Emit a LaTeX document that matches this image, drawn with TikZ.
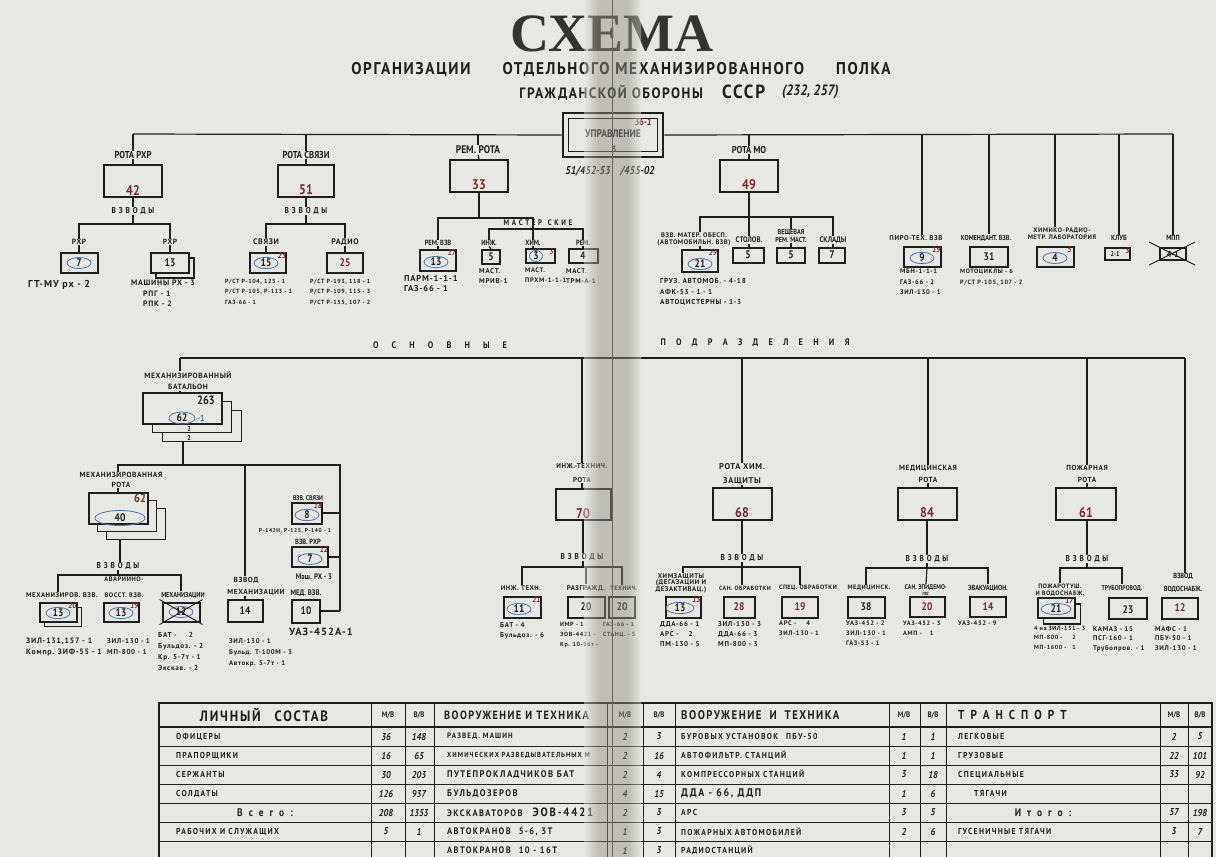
\documentclass[tikz,border=0pt]{standalone}
\usepackage{fontspec}
\setmainfont{PT Sans}[FakeStretch=0.86]
\newfontfamily\spfont{PT Sans}[FakeStretch=0.86,LetterSpace=12]
\newfontfamily\tfont{PT Sans}[FakeStretch=0.9,LetterSpace=10]
\newfontfamily\lfont{PT Sans}[LetterSpace=8]
\newfontfamily\nfont{PT Sans}[LetterSpace=10]
\newfontfamily\xfont{PT Sans}[FakeStretch=0.9,LetterSpace=15]
\newfontfamily\titlefont{Liberation Serif}
\usetikzlibrary{shapes.geometric,shadows}
\definecolor{paper}{HTML}{E7E7E4}
\definecolor{ink}{HTML}{1E1E1E}
\definecolor{titc}{HTML}{333331}
\definecolor{numred}{HTML}{6E2A2A}
\definecolor{ovalc}{HTML}{4F74A8}
\definecolor{foldc}{HTML}{8F8E86}
\tikzset{
 conn/.style={draw=ink, line width=1.2pt},
 ubox/.style={rectangle, draw=ink, line width=2pt, fill=paper, inner sep=0pt},
 bbox/.style={ubox, minimum width=58pt, minimum height=32pt},
 sbox/.style={ubox, minimum width=36pt, minimum height=20pt},
 lab/.style={font=\fontsize{7.5}{8}\selectfont, text=ink, inner sep=0.5pt, align=center},
 blab/.style={font=\fontsize{10}{10}\selectfont, text=ink, inner sep=0.5pt, align=center},
 vzv/.style={font=\spfont\fontsize{8.5}{9}\selectfont, text=ink, inner sep=0.5pt},
 num/.style={font=\fontsize{14}{14}\selectfont, text=numred, inner sep=0pt},
 snum/.style={font=\fontsize{11}{11}\selectfont, text=ink, inner sep=0pt},
 supn/.style={font=\itshape\fontsize{8.5}{8.5}\selectfont, text=numred, inner sep=0pt, anchor=north east},
 ovalm/.style={ellipse, draw=ovalc, line width=0.8pt, inner sep=0pt, minimum width=24pt, minimum height=11pt, font=\fontsize{11}{11}\selectfont, text=ink},
 note/.style={font=\nfont\fontsize{6.8}{10}\selectfont, text=ink, align=left, anchor=north west, inner sep=0pt},
 cross/.style={draw=ink, line width=0.9pt},
 tline/.style={draw=ink, line width=0.7pt},
 ttext/.style={font=\xfont\fontsize{8.6}{9}\selectfont, text=ink, anchor=west, inner sep=0pt},
 tval/.style={font=\itshape\fontsize{10}{10}\selectfont, text=ink, inner sep=0pt},
 thead/.style={font=\spfont\fontsize{12}{12}\selectfont, text=ink, inner sep=0pt},
 tsm/.style={font=\fontsize{8}{8}\selectfont, text=ink, inner sep=0pt},
 spread/.style={font=\spfont\fontsize{9.5}{9.5}\selectfont, text=ink, inner sep=0pt, text width=#1, align=left},
 stack/.style={copy shadow={shadow xshift=#1, shadow yshift=-#1, fill=paper, draw=ink, line width=1.5pt}},
 dstack/.style 2 args={double copy shadow={shadow xshift=#1, shadow yshift=-#2, fill=paper, draw=ink, line width=1.5pt}},
}
\begin{document}
\begin{tikzpicture}[x=1pt,y=-1pt, execute at begin node=\bfseries]
\fill[paper] (0,0) rectangle (1216,857);
\useasboundingbox (0,0) rectangle (1216,857);

% ---------- title ----------
\node[font=\titlefont\fontsize{54}{54}\selectfont, text=titc, inner sep=0] (title) at (612,34) {СХЕМА};
\node[font=\tfont\fontsize{17}{17}\selectfont, text=ink, inner sep=0] (sub1) at (621,69) {ОРГАНИЗАЦИИ\hspace{32pt}ОТДЕЛЬНОГО МЕХАНИЗИРОВАННОГО\hspace{32pt}ПОЛКА};
\node[font=\tfont\fontsize{15}{15}\selectfont, text=ink, inner sep=0, anchor=east] (sub2) at (703,93) {ГРАЖДАНСКОЙ ОБОРОНЫ};
\node[font=\tfont\fontsize{19}{19}\selectfont, text=ink, inner sep=0, anchor=west] (sub3) at (722,92) {СССР};
\node[font=\itshape\fontsize{15}{15}\selectfont, text=ink, inner sep=0, anchor=west] (sub4) at (782,92) {(232, 257)};

% ---------- управление ----------
\node[ubox, line width=2.6pt, minimum width=100pt, minimum height=44pt] (upr) at (613,135) {};
\node[draw=ink, line width=0.9pt, minimum width=89pt, minimum height=33pt, inner sep=0] (upri) at (upr.center) {};
\node[font=\fontsize{11}{11}\selectfont, text=ink, inner sep=0] (uprt) at (613,134) {УПРАВЛЕНИЕ};
\node[font=\itshape\fontsize{10}{10}\selectfont, text=numred, inner sep=0] (upr1) at (643,122) {36-1};
\node[font=\fontsize{9}{9}\selectfont, text=ink, inner sep=0] (upr2) at (614,149) {3};
\node[font=\itshape\fontsize{11.5}{11.5}\selectfont, text=ink, inner sep=0] (uprn) at (610,171) {51/452-53\hspace{10pt}/455-02};

\coordinate (tL) at (133,134);
\coordinate (tR) at (1173,134);
\draw[conn] (upr.west) -- (tL);
\draw[conn] (upr.east) -- (tR);

% ---------- рота РХР ----------
\node[blab] (lRXR) at (133,155) {РОТА РХР};
\node[bbox] (bRXR) at (133,181) {};
\node[num] (nRXR) at ([yshift=8pt]bRXR.south) {42};
\node[vzv] (vRXR) at (133,211) {В З В О Д Ы};
\coordinate (jRXR) at (133,224);
\draw[conn] (tL) -- (lRXR.north);
\draw[conn] (lRXR.south) -- (bRXR.north);
\draw[conn] (bRXR.south) -- (vRXR.north);
\draw[conn] (vRXR.south) -- (jRXR);
\node[lab, font=\lfont\fontsize{7.5}{8}\selectfont] (lRXR1) at (79,242) {РХР};
\node[lab, font=\lfont\fontsize{7.5}{8}\selectfont] (lRXR2) at (170,242) {РХР};
\draw[conn] (jRXR) -| (lRXR1.north);
\draw[conn] (jRXR) -| (lRXR2.north);
\node[sbox, minimum width=37pt] (bRXR1) at (79,263) {};
\node[ovalm] (oRXR1) at (bRXR1.center) {7};
\node[sbox, minimum width=38pt, stack=5pt] (bRXR2) at (170,263) {};
\node[snum] (nRXR2) at (bRXR2.center) {13};
\draw[conn] (lRXR1.south) -- (bRXR1.north);
\draw[conn] (lRXR2.south) -- (bRXR2.north);
\node[note, font=\nfont\fontsize{10}{10}\selectfont] (tRXR1) at (28,280) {ГТ-МУ рх - 2};
\node[note, font=\nfont\fontsize{7.8}{10.5}\selectfont] (tRXR2) at (131,280) {МАШИНЫ РХ - 3\\\hspace*{12pt}РПГ - 1\\\hspace*{12pt}РПК - 2};

% ---------- рота связи ----------
\node[blab] (lSV) at (306,155) {РОТА СВЯЗИ};
\node[bbox, minimum width=56pt] (bSV) at (306,181) {};
\node[num] (nSV) at ([yshift=8pt]bSV.south) {51};
\node[vzv] (vSV) at (306,211) {В З В О Д Ы};
\coordinate (jSV) at (306,224);
\draw[conn] (lSV.north |- tL) -- (lSV.north);
\draw[conn] (lSV.south) -- (bSV.north);
\draw[conn] (bSV.south) -- (vSV.north);
\draw[conn] (vSV.south) -- (jSV);
\node[lab, font=\lfont\fontsize{8}{8}\selectfont] (lSV1) at (266,242) {СВЯЗИ};
\node[lab, font=\lfont\fontsize{8}{8}\selectfont] (lSV2) at (345,242) {РАДИО};
\draw[conn] (jSV) -| (lSV1.north);
\draw[conn] (jSV) -| (lSV2.north);
\node[sbox] (bSV1) at (268,263) {};
\node[ovalm] (oSV1) at ([xshift=-2pt]bSV1.center) {15};
\node[supn] (sSV1) at ([xshift=-1pt,yshift=-0.5pt]bSV1.north east) {23};
\node[sbox] (bSV2) at (345,263) {};
\node[snum, text=numred] (nSV2) at (bSV2.center) {25};
\draw[conn] (lSV1.south) -- (lSV1.south |- bSV1.north);
\draw[conn] (lSV2.south) -- (bSV2.north);
\node[note, font=\nfont\fontsize{6}{10.5}\selectfont] (tSV1) at (225,279) {Р/СТ Р-104, 125 - 1\\Р/СТ Р-105, Р-113 - 1\\ГАЗ-66 - 1};
\node[note, font=\nfont\fontsize{6}{10.5}\selectfont] (tSV2) at (310,279) {Р/СТ Р-193, 118 - 1\\Р/СТ Р-109, 115 - 3\\Р/СТ Р-155, 107 - 2};

% ---------- рем. рота ----------
\node[blab, font=\fontsize{11}{11}\selectfont] (lREM) at (478,150) {РЕМ. РОТА};
\node[bbox] (bREM) at (479,176) {};
\node[num] (nREM) at ([yshift=8pt]bREM.south) {33};
\coordinate (jREM) at (479,218);
\coordinate (jM) at (533,229);
\draw[conn] (lREM.north |- tL) -- (lREM.north);
\draw[conn] (lREM.south) -- (bREM.north);
\draw[conn] (bREM.south) -- (jREM);
\node[font=\spfont\fontsize{8}{8}\selectfont, text=ink, inner sep=0] (mast) at (538,223) {М А С Т Е Р\hspace{3pt} С К И Е};
\node[lab] (lREM1) at (438,243) {РЕМ. ВЗВ};
\node[lab] (lREM2) at (489,243) {ИНЖ.};
\node[lab] (lREM3) at (533,243) {ХИМ.};
\node[lab] (lREM4) at (583,243) {РЕМ.};
\draw[conn] (jREM) -| (lREM1.north);
\draw[conn] (jREM) -| (lREM3.north);
\draw[conn] (jM) -| (lREM2.north);
\draw[conn] (jM) -| (lREM4.north);
\node[sbox, minimum height=21pt] (bREM1) at (438,260) {};
\node[ovalm] (oREM1) at ([xshift=-2pt,yshift=-2pt]bREM1.center) {13};
\node[supn] (sREM1) at ([xshift=-1pt,yshift=-0.5pt]bREM1.north east) {17};
\node[ubox, minimum width=18pt, minimum height=14pt] (bREM2) at (491,257) {};
\node[snum] (nREM2) at (bREM2.center) {5};
\node[ubox, minimum width=29pt, minimum height=14pt] (bREM3) at (540,256) {};
\node[ovalm, minimum width=13pt, minimum height=11pt] (oREM3) at ([xshift=-4pt]bREM3.center) {3};
\node[supn] (sREM3) at ([xshift=-2pt,yshift=-0.5pt]bREM3.north east) {3};
\node[ubox, minimum width=29pt, minimum height=14pt] (bREM4) at (583,256) {};
\node[snum] (nREM4) at (bREM4.center) {4};
\draw[conn] (lREM1.south) -- (bREM1.north);
\draw[conn] (lREM2.south) -- (bREM2.north);
\draw[conn] (lREM3.south) -- (lREM3.south |- bREM3.north);
\draw[conn] (lREM4.south) -- (bREM4.north);
\node[note, font=\nfont\fontsize{8.5}{10.5}\selectfont] (tREM1) at (404,275) {ПАРМ-1-1-1\\ГАЗ-66 - 1};
\node[note, font=\nfont\fontsize{7}{10}\selectfont] (tREM2) at (479,268) {МАСТ.\\МРИВ-1};
\node[note, font=\nfont\fontsize{6.5}{10}\selectfont] (tREM3) at (525,268) {МАСТ.\\ПРХМ-1-1-1};
\node[note, font=\nfont\fontsize{6.8}{10}\selectfont] (tREM4) at (566,268) {МАСТ.\\ТРМ-А-1};

% ---------- рота МО ----------
\node[blab] (lMO) at (749,150) {РОТА МО};
\node[bbox] (bMO) at (749,176) {};
\node[num] (nMO) at ([yshift=8pt]bMO.south) {49};
\coordinate (jMO) at (749,217);
\draw[conn] (lMO.north |- tL) -- (lMO.north);
\draw[conn] (lMO.south) -- (bMO.north);
\draw[conn] (bMO.south) -- (jMO);
\node[lab, font=\lfont\fontsize{6.6}{7.2}\selectfont] (lMO1) at (694,239) {ВЗВ. МАТЕР. ОБЕСП.\\(АВТОМОБИЛЬН. ВЗВ)};
\node[lab, font=\fontsize{8}{8}\selectfont] (lMO2) at (749,240) {СТОЛОВ.};
\node[lab, font=\fontsize{7.2}{8}\selectfont] (lMO3) at (791,236) {ВЕЩЕВАЯ\\РЕМ. МАСТ.};
\node[lab, font=\fontsize{8}{8}\selectfont] (lMO4) at (833,240) {СКЛАДЫ};
\node[sbox, minimum height=22pt] (bMO1) at (700,261) {};
\node[ovalm] (oMO1) at ([yshift=-3pt]bMO1.center) {21};
\node[supn] (sMO1) at ([xshift=-2pt,yshift=-0.5pt]bMO1.north east) {29};
\node[ubox, minimum width=31pt, minimum height=15pt] (bMO2) at (748,255) {};
\node[snum] (nMO2) at (bMO2.center) {5};
\node[ubox, minimum width=28pt, minimum height=15pt] (bMO3) at (791,255) {};
\node[snum] (nMO3) at (bMO3.center) {5};
\node[ubox, minimum width=26pt, minimum height=15pt] (bMO4) at (832,255) {};
\node[snum] (nMO4) at (bMO4.center) {7};
\draw[conn] (jMO) -| (bMO1.north |- lMO1.north);
\draw[conn] (jMO) -- (lMO2.north);
\draw[conn] (jMO) -| (lMO3.north);
\draw[conn] (jMO) -| (lMO4.north);
\draw[conn] (bMO1.north |- lMO1.south) -- (bMO1.north);
\draw[conn] (lMO2.south) -- (lMO2.south |- bMO2.north);
\draw[conn] (lMO3.south) -- (bMO3.north);
\draw[conn] (lMO4.south) -- (lMO4.south |- bMO4.north);
\node[note, font=\nfont\fontsize{7.2}{10.8}\selectfont] (tMO1) at (660,278) {ГРУЗ. АВТОМОБ. - 4-18\\АФК-53 - 1 - 1\\АВТОЦИСТЕРНЫ - 1-3};

% ---------- right group ----------
\node[lab, font=\lfont\fontsize{7}{8}\selectfont] (lPT) at (916,238) {ПИРО-ТЕХ. ВЗВ};
\node[lab, font=\fontsize{7.2}{8}\selectfont] (lKOM) at (986,238) {КОМЕНДАНТ. ВЗВ.};
\node[lab, font=\lfont\fontsize{6.5}{7.4}\selectfont] (lHIM) at (1062,234) {ХИМИКО-РАДИО-\\МЕТР. ЛАБОРАТОРИЯ};
\node[lab] (lKL) at (1119,238) {КЛУБ};
\node[lab] (lMPP) at (1173,238) {МПП};
\node[sbox, minimum width=37pt] (bPT) at (922,257) {};
\node[ovalm] (oPT) at ([yshift=-1pt]bPT.center) {9};
\node[supn] (sPT) at ([xshift=-1pt,yshift=-0.5pt]bPT.north east) {19};
\node[sbox, minimum width=38pt] (bKOM) at (989,257) {};
\node[snum] (nKOM) at (bKOM.center) {31};
\node[sbox, minimum width=37pt] (bHIM) at (1055,257) {};
\node[ovalm] (oHIM) at ([yshift=-1pt]bHIM.center) {4};
\node[supn] (sHIM) at ([xshift=-3pt,yshift=-0.5pt]bHIM.north east) {5};
\node[ubox, minimum width=25pt, minimum height=12pt] (bKL) at (1117,254) {};
\node[font=\fontsize{7}{7}\selectfont, text=ink, inner sep=0] (nKL) at ([xshift=-2pt]bKL.center) {2-1};
\node[supn] (sKL) at ([xshift=-1pt,yshift=-0.5pt]bKL.north east) {3};
\node[ubox, minimum width=26pt, minimum height=12pt] (bMPP) at (1173,254) {};
\node[font=\fontsize{9}{9}\selectfont, text=ink, inner sep=0] (nMPP) at (bMPP.center) {4-1};
\draw[conn] (bPT.north |- tL) -- (bPT.north |- lPT.north);
\draw[conn] (bKOM.north |- tL) -- (bKOM.north |- lKOM.north);
\draw[conn] (bHIM.north |- tL) -- (bHIM.north |- lHIM.north);
\draw[conn] (lKL.north |- tL) -- (lKL.north);
\draw[conn] (tR) -- (lMPP.north);
\draw[cross] ([shift={(-10pt,5pt)}]bMPP.north west) -- ([shift={(8pt,-4pt)}]bMPP.south east);
\draw[cross] ([shift={(-10pt,-4pt)}]bMPP.south west) -- ([shift={(8pt,5pt)}]bMPP.north east);
\node[note, font=\nfont\fontsize{6.6}{10.5}\selectfont] (tPT) at (900,269) {МБН-1-1-1\\ГАЗ-66 - 2\\ЗИЛ-130 - 1};
\node[note, font=\nfont\fontsize{6.2}{10.8}\selectfont] (tKOM) at (960,269) {МОТОЦИКЛЫ - 6\\Р/СТ Р-105, 107 - 2};

% ---------- основные подразделения ----------
\node[spread=134pt] (osn) at (440,345) {О\hfill С\hfill Н\hfill О\hfill В\hfill Н\hfill Ы\hfill Е};
\node[spread=189pt] (podr) at (755,343) {П\hfill О\hfill Д\hfill Р\hfill А\hfill З\hfill Д\hfill Е\hfill Л\hfill Е\hfill Н\hfill И\hfill Я};
\coordinate (mL) at (180,358);
\coordinate (mR) at (1185,358);
\draw[conn] (mL) -- (mR);

% ---------- мех. батальон ----------
\node[lab, font=\lfont\fontsize{7.6}{11}\selectfont] (lBAT) at (188,381) {МЕХАНИЗИРОВАННЫЙ\\БАТАЛЬОН};
\draw[conn] (mL) -- (mL |- lBAT.north);
\node[ubox, minimum width=79pt, minimum height=31pt, dstack={10pt}{9pt}] (bBAT) at (182,408) {};
\draw[conn] (mL |- lBAT.south) -- (mL |- bBAT.north);
\node[font=\fontsize{12}{12}\selectfont, text=ink, inner sep=0] (nBAT) at (206,400) {263};
\node[ovalm, minimum width=26pt, minimum height=12pt] (oBAT) at (182,418) {62};
\node[font=\fontsize{9}{9}\selectfont, text=ovalc, inner sep=0] (oBAT1) at (201,418) {-1};
\node[font=\fontsize{7}{7}\selectfont, text=ink, inner sep=0] (dBAT1) at (189,428.5) {2};
\node[font=\fontsize{7}{7}\selectfont, text=ink, inner sep=0] (dBAT2) at (189,437.5) {2};
\coordinate (bBATb) at (183,442);
\coordinate (jBAT) at (183,465);
\draw[conn] (bBATb) -- (jBAT);

% мех. рота
\node[lab, font=\lfont\fontsize{7.4}{10}\selectfont] (lMR) at (121,480) {МЕХАНИЗИРОВАННАЯ\\РОТА};
\node[ubox, minimum width=59pt, minimum height=31pt, dstack={9pt}{8pt}] (bMR) at (118,508) {};
\draw[conn] (jBAT) -| (bMR.north |- lMR.north);
\draw[conn] (bMR.north |- lMR.south) -- (bMR.north);
\node[font=\fontsize{12}{12}\selectfont, text=numred, inner sep=0] (nMR) at (140,498) {62};
\node[ovalm, minimum width=50pt, minimum height=15pt] (oMR) at (120,518) {40};
\coordinate (bMRb) at (120,539);
\node[vzv] (vMR) at (118,566) {В З В О Д Ы};
\coordinate (jMR) at (118,575);
\draw[conn] (bMRb) -- (vMR.north -| bMRb);
\draw[conn] (vMR.south) -- (jMR);
\node[lab, font=\lfont\fontsize{6.8}{8}\selectfont] (lMR1) at (62,595) {МЕХАНИЗИРОВ. ВЗВ.};
\node[lab, font=\lfont\fontsize{6.5}{16}\selectfont] (lMR2) at (124,587) {АВАРИЙНО-\\ВОССТ. ВЗВ.};
\node[lab, font=\fontsize{7.2}{8}\selectfont] (lMR3) at (183,595) {МЕХАНИЗАЦИИ};
\node[sbox, minimum width=37pt, minimum height=19pt, stack=5pt] (bMR1) at (58,612) {};
\node[ovalm] (oMR1) at ([yshift=-1pt]bMR1.center) {13};
\node[supn] (sMR1) at ([xshift=-1pt,yshift=-0.5pt]bMR1.north east) {20};
\node[sbox, minimum width=35pt, minimum height=19pt] (bMR2) at (121,612) {};
\node[ovalm] (oMR2) at ([yshift=-1pt]bMR2.center) {13};
\node[supn] (sMR2) at ([xshift=-1pt,yshift=-0.5pt]bMR2.north east) {19};
\node[sbox, minimum width=37pt, minimum height=19pt] (bMR3) at (181,612) {};
\node[ovalm] (oMR3) at (bMR3.center) {12};
\draw[conn] (jMR) -| (bMR1.north |- lMR1.north);
\draw[conn] (jMR) -| (lMR2.north);
\draw[conn] (jMR) -| (bMR3.north |- lMR3.north);
\draw[cross] ([shift={(-2pt,2pt)}]bMR3.north west) -- ([shift={(2pt,-2pt)}]bMR3.south east);
\draw[cross] ([shift={(-2pt,-2pt)}]bMR3.south west) -- ([shift={(2pt,2pt)}]bMR3.north east);
\node[note, font=\nfont\fontsize{7.8}{11}\selectfont] (tMR1) at (26,638) {ЗИЛ-131,157 - 1\\Компр. ЗИФ-55 - 1};
\node[note, font=\nfont\fontsize{7}{11}\selectfont] (tMR2) at (107,638) {ЗИЛ-130 - 1\\МП-800 - 1};
\node[note, font=\nfont\fontsize{7.2}{11}\selectfont] (tMR3) at (158,632) {БАТ -\hspace{12pt}2\\Бульдоз. - 2\\Кр. 5-7т - 1\\Экскав. - 2};

% взвод механизации
\node[lab, font=\lfont\fontsize{7.3}{12}\selectfont] (lVM) at (256,586) {ВЗВОД\hspace*{20pt}\\МЕХАНИЗАЦИИ};
\node[sbox, minimum width=35pt, minimum height=22pt] (bVM) at (245,611) {};
\node[snum] (nVM) at (bVM.center) {14};
\draw[conn] (jBAT) -| (bVM.north |- lVM.north);
\draw[conn] (bVM.north |- lVM.south) -- (bVM.north);
\node[note, font=\nfont\fontsize{6.8}{11}\selectfont] (tVM) at (229,638) {ЗИЛ-130 - 1\\Бульд. Т-100М - 3\\Автокр. 5-7т - 1};

% right column
\coordinate (rc) at (340,611);
\draw[conn] (jBAT) -| (rc);
\node[lab, font=\fontsize{6.8}{8}\selectfont] (lVS) at (308,498) {ВЗВ. СВЯЗИ};
\node[sbox, minimum width=30pt, minimum height=21pt] (bVS) at (307,513) {};
\node[ovalm] (oVS) at ([yshift=-2pt]bVS.center) {8};
\node[supn] (sVS) at ([xshift=-1pt,yshift=-0.5pt]bVS.north east) {18};
\node[font=\nfont\fontsize{5.6}{6}\selectfont, text=ink, inner sep=0] (tVS) at (295,531) {Р-142Н, Р-125, Р-140 - 1};
\node[lab] (lVR) at (308,542) {ВЗВ. РХР};
\node[sbox, minimum width=36pt, minimum height=20pt] (bVR) at (310,557) {};
\node[ovalm] (oVR) at ([yshift=-2pt]bVR.center) {7};
\node[supn] (sVR) at ([xshift=-1pt,yshift=-0.5pt]bVR.north east) {12};
\node[font=\fontsize{8}{8}\selectfont, text=ink, inner sep=0] (tVR) at (314,577) {Маш. РХ - 3};
\node[lab, font=\fontsize{8}{8}\selectfont] (lMED) at (306,593) {МЕД. ВЗВ.};
\node[sbox, minimum width=28pt, minimum height=23pt] (bMED) at (306,611) {};
\node[snum] (nMED) at (bMED.center) {10};
\node[font=\nfont\fontsize{10.5}{10.5}\selectfont, text=ink, inner sep=0] (tMED) at (321,632) {УАЗ-452А-1};
\draw[conn] (bVS.east) -- (bVS.east -| rc);
\draw[conn] (bVR.east) -- (bVR.east -| rc);
\draw[conn] (rc) -- (bMED.east);

% ---------- инж.-техн. рота ----------
\node[lab, font=\lfont\fontsize{7}{14}\selectfont] (lIT) at (582,473) {ИНЖ.-ТЕХНИЧ.\\РОТА};
\draw[conn] (lIT.north |- mL) -- (lIT.north);
\node[bbox, minimum width=55pt, minimum height=31pt] (bIT) at (583,504) {};
\node[num] (nIT) at ([yshift=7pt]bIT.south) {70};
\draw[conn] (lIT.south) -- (lIT.south |- bIT.north);
\node[vzv] (vIT) at (582,557) {В З В О Д Ы};
\coordinate (jIT) at (583,567);
\draw[conn] (bIT.south) -- (vIT.north -| bIT.south);
\draw[conn] (vIT.south -| jIT) -- (jIT);
\node[lab, font=\lfont\fontsize{6.8}{7}\selectfont] (lIT1) at (521,588) {ИНЖ. ТЕХН.};
\node[lab, font=\lfont\fontsize{6.8}{7}\selectfont] (lIT2) at (586,588) {РАЗГРАЖД.};
\node[lab, font=\lfont\fontsize{6.2}{7}\selectfont] (lIT3) at (624,588) {ТЕХНИЧ.};
\node[sbox, minimum width=37pt, minimum height=21pt] (bIT1) at (522,607) {};
\node[ovalm] (oIT1) at ([xshift=-3pt,yshift=-2pt]bIT1.center) {11};
\node[supn] (sIT1) at ([xshift=-1pt,yshift=-0.5pt]bIT1.north east) {21};
\node[sbox, minimum width=37pt, minimum height=21pt] (bIT2) at (586,607) {};
\node[snum] (nIT2) at (bIT2.center) {20};
\node[sbox, minimum width=26pt, minimum height=21pt] (bIT3) at (622,607) {};
\node[snum] (nIT3) at (bIT3.center) {20};
\draw[conn] (jIT) -| (bIT1.north |- lIT1.north);
\draw[conn] (jIT) -| (lIT2.north);
\draw[conn] (jIT) -| (bIT3.north |- lIT3.north);
\node[note, font=\nfont\fontsize{7}{10}\selectfont] (tIT1) at (500,622) {БАТ - 4\\Бульдоз. - 6};
\node[note, font=\nfont\fontsize{6}{10}\selectfont] (tIT2) at (560,622) {ИМР - 1\\ЭОВ-4421 -\\Кр. 10-16т -};
\node[note, font=\nfont\fontsize{6}{10}\selectfont] (tIT3) at (603,622) {ГАЗ-66 - 1\\СТАНЦ. - 5};

% ---------- рота хим. защиты ----------
\node[lab, font=\lfont\fontsize{8.4}{14}\selectfont] (lHZ) at (742,474) {РОТА ХИМ.\\ЗАЩИТЫ};
\draw[conn] (lHZ.north |- mL) -- (lHZ.north);
\node[bbox, minimum width=59pt] (bHZ) at (742,504) {};
\node[num] (nHZ) at ([yshift=8pt]bHZ.south) {68};
\draw[conn] (lHZ.south) -- (bHZ.north);
\node[vzv] (vHZ) at (742,558) {В З В О Д Ы};
\coordinate (jHZ) at (742,567);
\draw[conn] (bHZ.south) -- (vHZ.north);
\draw[conn] (vHZ.south) -- (jHZ);
\node[lab, font=\lfont\fontsize{6.8}{6.6}\selectfont] (lHZ1) at (681,583) {ХИМЗАЩИТЫ\\(ДЕГАЗАЦИИ И\\ДЕЗАКТИВАЦ.)};
\node[lab, font=\lfont\fontsize{6}{7}\selectfont] (lHZ2) at (745,588) {САН. ОБРАБОТКИ};
\node[lab, font=\lfont\fontsize{6.2}{7}\selectfont] (lHZ3) at (808,588) {СПЕЦ. ОБРАБОТКИ};
\node[sbox, minimum width=35pt, minimum height=21pt] (bHZ1) at (683,607) {};
\node[ovalm, minimum width=28pt] (oHZ1) at ([xshift=-3pt,yshift=-1pt]bHZ1.center) {13};
\node[supn] (sHZ1) at ([xshift=-1pt,yshift=-0.5pt]bHZ1.north east) {13};
\node[sbox, minimum width=31pt, minimum height=21pt] (bHZ2) at (739,607) {};
\node[snum, text=numred] (nHZ2) at (bHZ2.center) {28};
\node[sbox, minimum width=36pt, minimum height=21pt] (bHZ3) at (800,607) {};
\node[snum, text=numred] (nHZ3) at (bHZ3.center) {19};
\draw[conn] (jHZ) -| (bHZ1.north |- lHZ1.north);
\draw[conn] (jHZ) -- (lHZ2.north -| jHZ);
\draw[conn] (jHZ) -| (bHZ3.north |- lHZ3.north);
\node[note, font=\nfont\fontsize{7}{10}\selectfont] (tHZ1) at (660,621) {ДДА-66 - 1\\АРС -\hspace{10pt}2\\ПМ-130 - 5};
\node[note, font=\nfont\fontsize{7}{10}\selectfont] (tHZ2) at (718,621) {ЗИЛ-130 - 3\\ДДА-66 - 3\\МП-800 - 3};
\node[note, font=\nfont\fontsize{6.5}{10}\selectfont] (tHZ3) at (779,621) {АРС -\hspace{10pt}4\\ЗИЛ-130 - 1};

% ---------- медицинская рота ----------
\node[lab, font=\lfont\fontsize{7.4}{12}\selectfont] (lMD) at (928,474) {МЕДИЦИНСКАЯ\\РОТА};
\draw[conn] (lMD.north |- mL) -- (lMD.north);
\node[bbox, minimum width=59pt] (bMD) at (927,504) {};
\node[num] (nMD) at ([yshift=8pt]bMD.south) {84};
\draw[conn] (lMD.south) -- (lMD.south |- bMD.north);
\node[vzv] (vMD) at (927,559) {В З В О Д Ы};
\coordinate (jMD) at (927,568);
\draw[conn] (bMD.south) -- (vMD.north);
\draw[conn] (vMD.south) -- (jMD);
\node[lab, font=\lfont\fontsize{6.3}{5.5}\selectfont] (lMD1) at (869,588) {МЕДИЦИНСК.};
\node[lab, font=\fontsize{6.8}{5.5}\selectfont] (lMD2) at (926,590) {САН. ЭПИДЕМО-\\{\fontsize{4.5}{5}\selectfont ЛОГ.}};
\node[lab, font=\fontsize{7.3}{7}\selectfont] (lMD3) at (988,588) {ЭВАКУАЦИОН.};
\node[sbox, minimum width=37pt, minimum height=21pt] (bMD1) at (866,607) {};
\node[snum] (nMD1) at (bMD1.center) {38};
\node[sbox, minimum width=35pt, minimum height=20pt] (bMD2) at (927,607) {};
\node[snum, text=numred] (nMD2) at (bMD2.center) {20};
\node[sbox, minimum width=36pt, minimum height=20pt] (bMD3) at (988,607) {};
\node[snum, text=numred] (nMD3) at (bMD3.center) {14};
\draw[conn] (jMD) -| (bMD1.north |- lMD1.north);
\draw[conn] (jMD) -- (lMD2.north);
\draw[conn] (jMD) -| (lMD3.north);
\node[note, font=\nfont\fontsize{6.5}{10}\selectfont] (tMD1) at (846,621) {УАЗ-452 - 2\\ЗИЛ-130 - 1\\ГАЗ-53 - 1};
\node[note, font=\nfont\fontsize{6.3}{10}\selectfont] (tMD2) at (903,621) {УАЗ-452 - 3\\АМП -\hspace{8pt}1};
\node[note, font=\nfont\fontsize{6.5}{10}\selectfont] (tMD3) at (958,621) {УАЗ-452 - 9};

% ---------- пожарная рота ----------
\node[lab, font=\lfont\fontsize{7.3}{12}\selectfont] (lPZ) at (1087,474) {ПОЖАРНАЯ\\РОТА};
\draw[conn] (lPZ.north |- mL) -- (lPZ.north);
\node[bbox, minimum width=60pt] (bPZ) at (1086,504) {};
\node[num] (nPZ) at ([yshift=8pt]bPZ.south) {61};
\draw[conn] (lPZ.south) -- (lPZ.south |- bPZ.north);
\node[vzv] (vPZ) at (1087,559) {В З В О Д Ы};
\coordinate (jPZ) at (1087,568);
\draw[conn] (bPZ.south -| jPZ) -- (vPZ.north);
\draw[conn] (vPZ.south) -- (jPZ);
\node[lab, font=\lfont\fontsize{6.3}{7}\selectfont] (lPZ1) at (1060,590) {ПОЖАРОТУШ.\\И ВОДОСНАБЖ.};
\node[lab, font=\fontsize{6.8}{7}\selectfont] (lPZ2) at (1122,588) {ТРУБОПРОВОД.};
\draw[conn] (jPZ) -| (lPZ1.north);
\draw[conn] (jPZ) -| (lPZ2.north);
\node[sbox, minimum width=37pt, minimum height=20pt, stack=6pt] (bPZ1) at (1056,608) {};
\node[ovalm, minimum width=30pt] (oPZ1) at ([yshift=-1pt]bPZ1.center) {21};
\node[supn] (sPZ1) at ([xshift=-2pt,yshift=-0.5pt]bPZ1.north east) {17};
\node[sbox, minimum width=38pt, minimum height=21pt] (bPZ2) at (1128,608) {};
\node[snum] (nPZ2) at ([yshift=-2pt]bPZ2.center) {23};
\node[note, font=\nfont\fontsize{6}{9.5}\selectfont] (tPZ1) at (1034,626) {4 на ЗИЛ-131 - 3\\МП-800 -\hspace{10pt}2\\МП-1600 -\hspace{6pt}1};
\node[note, font=\nfont\fontsize{6.8}{9.5}\selectfont] (tPZ2) at (1093,626) {КАМАЗ - 15\\ПСГ-160 - 1\\Трубопров. - 1};

% ---------- взвод водоснабжения ----------
\node[lab, font=\fontsize{7.4}{13}\selectfont] (lVD) at (1183,583) {ВЗВОД\\ВОДОСНАБЖ.};
\draw[conn] (mR) -- (mR |- lVD.north);
\node[sbox, minimum width=36pt, minimum height=21pt] (bVD) at (1180,608) {};
\node[snum, text=numred] (nVD) at (bVD.center) {12};
\node[note, font=\nfont\fontsize{6.8}{9.5}\selectfont] (tVD) at (1155,626) {МАФС - 1\\ПБУ-50 - 1\\ЗИЛ-130 - 1};

% ---------- table ----------
\foreach \x in {371,405,434,607,643,675,889,920,946,1160,1188}
  \draw[tline] (\x,703) -- (\x,857);
\draw[ink, line width=1.3pt] (159,857) -- (159,703) -- (1212,703) -- (1212,857);
\draw[ink, line width=1.1pt] (159,727) -- (1212,727);
\foreach \y in {746,765,784,803,822,841}
  \draw[tline] (159,\y) -- (1212,\y);

\node[thead, font=\spfont\fontsize{15}{15}\selectfont] (h1) at (264,715) {ЛИЧНЫЙ\hspace{14pt}СОСТАВ};
\node[tsm] (h2) at (388,715) {М/В};
\node[tsm] (h3) at (419,715) {В/В};
\node[thead, font=\spfont\fontsize{12}{12}\selectfont, anchor=west] (h4) at (444,715) {ВООРУЖЕНИЕ И ТЕХНИКА};
\node[tsm] (h5) at (625,715) {М/В};
\node[tsm] (h6) at (659,715) {В/В};
\node[thead, font=\spfont\fontsize{12.5}{12.5}\selectfont, anchor=west] (h7) at (681,715) {ВООРУЖЕНИЕ\hspace{8pt}И\hspace{8pt}ТЕХНИКА};
\node[tsm] (h8) at (904,715) {М/В};
\node[tsm] (h9) at (933,715) {В/В};
\node[thead, font=\spfont\fontsize{13}{13}\selectfont, anchor=west] (h10) at (958,715) {Т\hspace{6pt}Р\hspace{6pt}А\hspace{6pt}Н\hspace{6pt}С\hspace{6pt}П\hspace{6pt}О\hspace{6pt}Р\hspace{6pt}Т};
\node[tsm] (h11) at (1174,715) {М/В};
\node[tsm] (h12) at (1200,715) {В/В};

\foreach \t [count=\i] in {ОФИЦЕРЫ,ПРАПОРЩИКИ,СЕРЖАНТЫ,СОЛДАТЫ}
  \node[ttext] (pa\i) at (176,717.5+19*\i) {\t};
\node[font=\spfont\fontsize{11}{11}\selectfont, text=ink, inner sep=0] (pa5) at (265,812.5) {В\hspace{6pt}с\hspace{6pt}е\hspace{6pt}г\hspace{6pt}о\hspace{6pt}:};
\node[ttext] (pa6) at (176,831.5) {РАБОЧИХ И СЛУЖАЩИХ};
\foreach \a/\b [count=\i] in {36/148,16/65,30/203,126/937,208/1353,5/1}{
  \node[tval] (pm\i) at (386,717.5+19*\i) {\a};
  \node[tval] (pv\i) at (419,717.5+19*\i) {\b};
}
\node[ttext, font=\xfont\fontsize{7.8}{8}\selectfont] (wa1) at (447,736.5) {РАЗВЕД. МАШИН};
\node[ttext, font=\xfont\fontsize{7.3}{8}\selectfont] (wa2) at (447,755.5) {ХИМИЧЕСКИХ РАЗВЕДЫВАТЕЛЬНЫХ М};
\node[ttext, font=\xfont\fontsize{9.6}{10}\selectfont] (wa3) at (447,774.5) {ПУТЕПРОКЛАДЧИКОВ БАТ};
\node[ttext, font=\xfont\fontsize{9.6}{10}\selectfont] (wa4) at (447,793.5) {БУЛЬДОЗЕРОВ};
\node[ttext, font=\xfont\fontsize{9.4}{10}\selectfont] (wa5) at (447,812.5) {ЭКСКАВАТОРОВ\hspace{10pt}{\fontsize{12}{12}\selectfont ЭОВ-4421}};
\node[ttext, font=\xfont\fontsize{9.4}{10}\selectfont] (wa6) at (447,831.5) {АВТОКРАНОВ\hspace{8pt}5-6{,} 3Т};
\node[ttext, font=\xfont\fontsize{9.4}{10}\selectfont] (wa7) at (447,850.5) {АВТОКРАНОВ\hspace{8pt}10 - 16Т};
\foreach \a/\b [count=\i] in {2/3,2/16,2/4,4/15,2/3,1/3,1/3}{
  \node[tval] (wm\i) at (625,717.5+19*\i) {\a};
  \node[tval] (wv\i) at (659,717.5+19*\i) {\b};
}
\foreach \t [count=\i] in {БУРОВЫХ УСТАНОВОК\hspace{8pt}ПБУ-50,АВТОФИЛЬТР. СТАНЦИЙ,КОМПРЕССОРНЫХ СТАНЦИЙ}
  \node[ttext] (xa\i) at (681,717.5+19*\i) {\t};
\node[ttext, font=\xfont\fontsize{11}{11}\selectfont] (xa4) at (681,793.5) {ДДА - 66{,} ДДП};
\node[ttext] (xa5) at (681,812.5) {АРС};
\node[ttext] (xa6) at (681,831.5) {ПОЖАРНЫХ АВТОМОБИЛЕЙ};
\node[ttext] (xa7) at (681,850.5) {РАДИОСТАНЦИЙ};
\foreach \a/\b [count=\i] in {1/1,1/1,3/18,1/6,3/5,2/6}{
  \node[tval] (xm\i) at (904,717.5+19*\i) {\a};
  \node[tval] (xv\i) at (933,717.5+19*\i) {\b};
}
\foreach \t [count=\i] in {ЛЕГКОВЫЕ,ГРУЗОВЫЕ,СПЕЦИАЛЬНЫЕ}
  \node[ttext] (ya\i) at (958,717.5+19*\i) {\t};
\node[ttext] (ya4) at (974,793.5) {ТЯГАЧИ};
\node[font=\spfont\fontsize{11}{11}\selectfont, text=ink, inner sep=0] (ya5) at (1043,812.5) {И\hspace{6pt}т\hspace{6pt}о\hspace{6pt}г\hspace{6pt}о\hspace{6pt}:};
\node[ttext] (ya6) at (958,831.5) {ГУСЕНИЧНЫЕ ТЯГАЧИ};
\foreach \a/\b/\r in {2/5/1,22/101/2,33/92/3,57/198/5,3/7/6}{
  \node[tval] (ym\r) at (1174,717.5+19*\r) {\a};
  \node[tval] (yv\r) at (1200,717.5+19*\r) {\b};
}

% ---------- fold of the paper ----------
\shade[left color=paper, right color=foldc, opacity=0.45] (584,0) rectangle (598,857);
\fill[foldc, opacity=0.45] (598,0) rectangle (628,857);
\shade[left color=foldc, right color=paper, opacity=0.45] (628,0) rectangle (641,857);
\draw[black!60, line width=0.6pt] (612,0) -- (612,857);
\end{tikzpicture}
\end{document}
